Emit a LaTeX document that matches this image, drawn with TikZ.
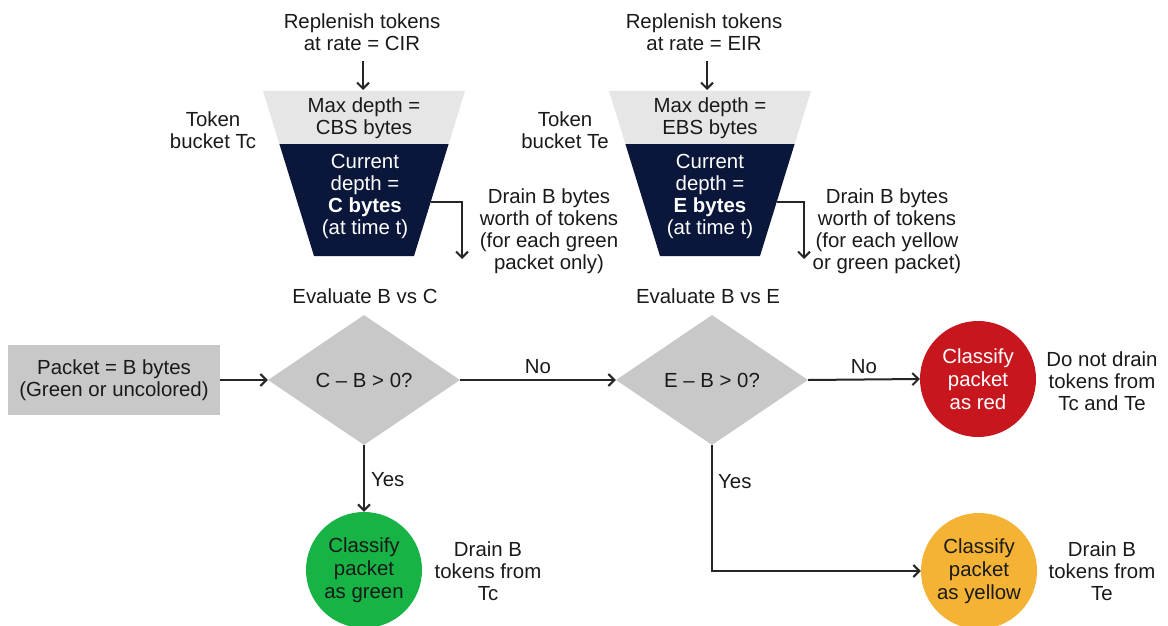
\documentclass[tikz,border=0pt]{standalone}
\usepackage{fontspec}
\setmainfont{Liberation Sans}
\usetikzlibrary{shapes.geometric,arrows.meta}
\definecolor{txt}{HTML}{1A1A1A}
\definecolor{linec}{HTML}{262626}
\definecolor{boxgray}{HTML}{C8C8C8}
\definecolor{lightg}{HTML}{E6E6E6}
\definecolor{navy}{HTML}{0B173A}
\definecolor{redc}{HTML}{C8161E}
\definecolor{greenc}{HTML}{17B345}
\definecolor{yellowc}{HTML}{F5B335}
\begin{document}
\begin{tikzpicture}[x=1pt,y=-1pt,
  font=\fontsize{20.4}{22}\selectfont,
  every node/.style={text=txt},
  conn/.style={draw=linec, line width=2pt, -{Straight Barb[length=6pt,width=12pt]}},
  lbl/.style={align=center, inner sep=0pt},
  decision/.style={diamond, fill=boxgray, minimum width=192pt, minimum height=130pt, inner sep=0pt, aspect=1.48},
  outcome/.style={circle, minimum size=116pt, inner sep=0pt, align=center, font=\fontsize{20.4}{23}\selectfont}]

\useasboundingbox[fill=white] (0,0) rectangle (1168,626);

% bucket Tc
\fill[lightg] (263,91) -- (465,91) -- (448.6,144) -- (279.4,144) -- cycle;
\fill[navy] (279.4,144) -- (448.6,144) -- (414,256) -- (314,256) -- cycle;
% bucket Te
\fill[lightg] (609,91) -- (811,91) -- (794.6,144) -- (625.4,144) -- cycle;
\fill[navy] (625.4,144) -- (794.6,144) -- (760,256) -- (660,256) -- cycle;

\coordinate (topc) at (363,90);
\coordinate (tope) at (707,90);
\coordinate (repc0) at (363,61);
\coordinate (repe0) at (707,61);
\coordinate (drainc0) at (431,202);
\coordinate (drainc1) at (462,259);
\coordinate (draine0) at (777,202);
\coordinate (draine1) at (804,259);

\node[lbl] (repc) at (362,32) {Replenish tokens\\at rate = CIR};
\node[lbl] (repe) at (704,32) {Replenish tokens\\at rate = EIR};
\node[lbl] (tbc) at (213,130) {Token\\bucket Tc};
\node[lbl] (tbe) at (565,130) {Token\\bucket Te};
\node[lbl] (maxc) at (364,118) {Max depth =\\CBS bytes};
\node[lbl] (maxe) at (710,118) {Max depth =\\EBS bytes};
\node[lbl, text=white] (curc) at (365,196) {Current\\depth =\\\textbf{C bytes}\\(at time t)};
\node[lbl, text=white] (cure) at (710,196) {Current\\depth =\\\textbf{E bytes}\\(at time t)};
\node[lbl] (drc) at (549,231) {Drain B bytes\\worth of tokens\\(for each green\\packet only)};
\node[lbl] (dre) at (887,231) {Drain B bytes\\worth of tokens\\(for each yellow\\or green packet)};
\node[lbl] (evc) at (365,296) {Evaluate B vs C};
\node[lbl] (eve) at (708,296) {Evaluate B vs E};

\node[fill=boxgray, minimum width=212pt, minimum height=70pt, align=center, inner sep=0pt] (pkt) at (114,380) {Packet = B bytes\\(Green or uncolored)};
\node[decision] (d1) at (364,380) {C -- B > 0?};
\node[decision] (d2) at (712,380) {E -- B > 0?};
\node[outcome, fill=redc, text=white] (red) at (978,379) {Classify\\packet\\as red};
\node[outcome, fill=greenc] (grn) at (364,570) {Classify\\packet\\as green};
\node[outcome, fill=yellowc] (yel) at (979,571) {Classify\\packet\\as yellow};

\node[lbl] (nred) at (1102,381) {Do not drain\\tokens from\\Tc and Te};
\node[lbl] (ngrn) at (488,571) {Drain B\\tokens from\\Tc};
\node[lbl] (nyel) at (1102,571) {Drain B\\tokens from\\Te};

\draw[conn] (repc0) -- (topc);
\draw[conn] (repe0) -- (tope);
\draw[conn] (drainc0) -| (drainc1);
\draw[conn] (draine0) -| (draine1);
\draw[conn] (pkt.east) -- (d1.west);
\draw[conn] (d1.east) -- node[above=5pt, inner sep=0pt] (no1) {No} (d2.west);
\draw[conn] (d2.east) -- node[above=5pt, inner sep=0pt] (no2) {No} (red.west);
\draw[conn] (d1.south) -- node[right=6pt, inner sep=0pt, pos=0.52] (yes1) {Yes} (grn.north);
\draw[conn] (d2.south) |- (yel.west);
\node[lbl, anchor=west] (yes2) at (718,482) {Yes};
\end{tikzpicture}
\end{document}
